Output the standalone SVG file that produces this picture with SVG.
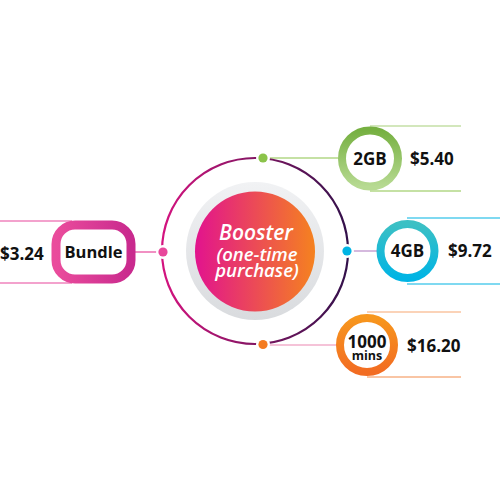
<svg xmlns="http://www.w3.org/2000/svg" width="500" height="500" viewBox="0 0 500 500">
<defs>
  <linearGradient id="ringG" x1="0" y1="0" x2="1" y2="0">
    <stop offset="0" stop-color="#d4137f"/>
    <stop offset="0.55" stop-color="#7a1660"/>
    <stop offset="1" stop-color="#32104a"/>
  </linearGradient>
  <linearGradient id="coreG" x1="0" y1="0" x2="1" y2="0">
    <stop offset="0" stop-color="#e2138e"/>
    <stop offset="1" stop-color="#f5821f"/>
  </linearGradient>
  <linearGradient id="grayG" x1="0" y1="0" x2="0" y2="1">
    <stop offset="0" stop-color="#f1f2f4"/>
    <stop offset="1" stop-color="#d9dbde"/>
  </linearGradient>
  <linearGradient id="greenG" x1="0" y1="0" x2="0" y2="1">
    <stop offset="0" stop-color="#76b041"/>
    <stop offset="1" stop-color="#b7da92"/>
  </linearGradient>
  <linearGradient id="tealG" x1="0" y1="0" x2="0" y2="1">
    <stop offset="0" stop-color="#3cc0c4"/>
    <stop offset="1" stop-color="#00b4e4"/>
  </linearGradient>
  <linearGradient id="orangeG" x1="0" y1="0" x2="0" y2="1">
    <stop offset="0" stop-color="#f7961d"/>
    <stop offset="1" stop-color="#f26c22"/>
  </linearGradient>
  <linearGradient id="pinkG" x1="0" y1="0" x2="1" y2="0">
    <stop offset="0" stop-color="#ea4c9c"/>
    <stop offset="1" stop-color="#c92a8e"/>
  </linearGradient>
</defs>
<style>
  .lbl { font-family: "Open Sans", "Liberation Sans", sans-serif; font-weight: 700; fill: #111; text-anchor: middle; }
  .price { font-family: "Open Sans", "Liberation Sans", sans-serif; font-weight: 700; fill: #111; font-size: 17px; }
  .core { font-family: "Open Sans", "Liberation Sans", sans-serif; font-style: italic; font-weight: 600; fill: #fff; text-anchor: middle; }
  .thin { stroke-width: 1.2; fill: none; }
</style>
<rect width="500" height="500" fill="#ffffff"/>

<g id="connectors">
  <line class="thin" x1="267" y1="158" x2="338" y2="158" stroke="#8bc34a"/>
  <line class="thin" x1="370" y1="126" x2="461" y2="126" stroke="#a7d07a"/>
  <line class="thin" x1="370" y1="191" x2="461" y2="191" stroke="#8bc34a"/>
  <line class="thin" x1="351" y1="251" x2="377" y2="251" stroke="#b98ac8"/>
  <line class="thin" x1="407" y1="218" x2="500" y2="218" stroke="#00b4e4"/>
  <line class="thin" x1="407" y1="284" x2="500" y2="284" stroke="#00b4e4"/>
  <line class="thin" x1="267" y1="345" x2="336" y2="345" stroke="#ec87b2"/>
  <line class="thin" x1="367" y1="312" x2="461" y2="312" stroke="#f7a872"/>
  <line class="thin" x1="367" y1="377" x2="461" y2="377" stroke="#f48b4a"/>
  <line class="thin" x1="135" y1="252" x2="159" y2="252" stroke="#e8479b"/>
  <line class="thin" x1="0" y1="221" x2="72" y2="221" stroke="#e8479b"/>
  <line class="thin" x1="0" y1="283" x2="72" y2="283" stroke="#e8479b"/>
</g>

<g id="booster">
  <circle cx="255" cy="251" r="93" fill="none" stroke="url(#ringG)" stroke-width="2.2"/>
  <circle cx="255" cy="251" r="69" fill="url(#grayG)"/>
  <circle cx="255" cy="251.5" r="60" fill="url(#coreG)"/>
  <text class="core" x="256" y="240" font-size="21">Booster</text>
  <text class="core" x="257" y="260.5" font-size="18.5">(one-time</text>
  <text class="core" x="257" y="277" font-size="18.5">purchase)</text>
  <circle cx="263" cy="158" r="7" fill="#fff"/>
  <circle cx="263" cy="158" r="4.6" fill="#8bc34a"/>
  <circle cx="163" cy="252" r="7" fill="#fff"/>
  <circle cx="163" cy="252" r="4.6" fill="#e8479b"/>
  <circle cx="347" cy="251" r="7" fill="#fff"/>
  <circle cx="347" cy="251" r="4.6" fill="#00b4e4"/>
  <circle cx="263" cy="344.5" r="7" fill="#fff"/>
  <circle cx="263" cy="344.5" r="4.6" fill="#f47b20"/>
</g>

<g id="node-2gb">
  <circle cx="370" cy="158.5" r="28" fill="#fff" stroke="url(#greenG)" stroke-width="8"/>
  <text class="lbl" x="370" y="164.5" font-size="17">2GB</text>
  <text class="price" x="410" y="164.5">$5.40</text>
</g>

<g id="node-4gb">
  <circle cx="407.5" cy="251" r="27" fill="#fff" stroke="url(#tealG)" stroke-width="8"/>
  <text class="lbl" x="407.5" y="257" font-size="17">4GB</text>
  <text class="price" x="448" y="257">$9.72</text>
</g>

<g id="node-1000">
  <circle cx="367" cy="345" r="27" fill="#fff" stroke="url(#orangeG)" stroke-width="8"/>
  <text class="lbl" x="367" y="348" font-size="17">1000</text>
  <text class="lbl" x="367" y="359.5" font-size="12.5">mins</text>
  <text class="price" x="407" y="351.5">$16.20</text>
</g>

<g id="node-bundle">
  <rect x="56" y="225" width="75" height="54" rx="19" fill="#fff" stroke="url(#pinkG)" stroke-width="9"/>
  <text class="lbl" x="93.5" y="257.5" font-size="16.5">Bundle</text>
  <text class="price" x="0" y="259.5">$3.24</text>
</g>
</svg>
